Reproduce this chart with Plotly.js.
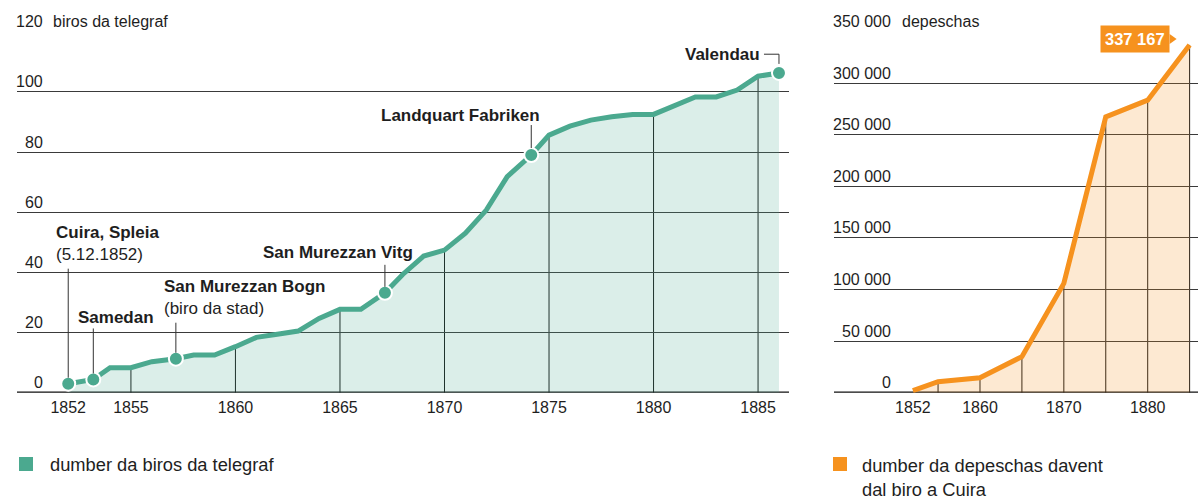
<!DOCTYPE html>
<html><head><meta charset="utf-8">
<script src="https://cdn.plot.ly/plotly-3.0.1.min.js"></script>
<style>html,body{margin:0;padding:0;background:#fff}#chart{width:1199px;height:499px}</style>
</head><body><div id="chart"></div>
<script>
// ---------- data ----------
const years = [1852, 1853.2, 1854, 1855, 1856, 1857.15, 1858, 1859, 1860, 1861, 1862, 1863, 1864, 1865, 1866, 1867.15, 1868, 1869, 1870, 1871, 1872, 1873, 1874.15, 1875, 1876, 1877, 1878, 1879, 1880, 1881, 1882, 1883, 1884, 1885, 1886];
const bureaus = [3, 4.4, 8.3, 8.3, 10.3, 11.3, 12.5, 12.5, 15.3, 18.4, 19.4, 20.5, 24.7, 27.7, 27.7, 33.2, 39.3, 45.4, 47.4, 53, 60.7, 71.8, 79, 85.6, 88.6, 90.6, 91.7, 92.5, 92.5, 95.2, 98.3, 98.3, 100.6, 105.2, 106.3];
const stationYears = [1852, 1853.2, 1857.15, 1867.15, 1874.15, 1886];
const stationNames = ['Cuira, Spleia', 'Samedan', 'San Murezzan Bogn', 'San Murezzan Vitg', 'Landquart Fabriken', 'Valendau'];
const stationNotes = ['(5.12.1852)', '', '(biro da stad)', '', '', ''];
const bureauXTicks = [1852, 1855, 1860, 1865, 1870, 1875, 1880, 1885];
const bureauGridYears = [1855, 1860, 1865, 1870, 1875, 1880, 1885];
const bureauYTicks = [0, 20, 40, 60, 80, 100, 120];
const bureauUnit = 'biros da telegraf';

const depYears = [1852, 1855, 1860, 1865, 1870, 1875, 1880, 1885];
const depValues = [2000, 10700, 14500, 34900, 106000, 267400, 283600, 337167];
const depXTicks = [1852, 1860, 1870, 1880];
const depGridYears = [1855, 1860, 1865, 1870, 1875, 1880, 1885];
const depYTicks = [0, 50000, 100000, 150000, 200000, 250000, 300000, 350000];
const depUnit = 'depeschas';

const legendBureaus = 'dumber da biros da telegraf';
const legendDepeschas = 'dumber da depeschas davent<br>dal biro a Cuira';

// ---------- style ----------
const W = 1199, H = 499;
const px = x => x / W;
const py = y => 1 - y / H;
const TEAL = '#4ba98f', TEAL_FILL = 'rgba(75,169,143,0.2)';
const ORANGE = '#f6921e', ORANGE_FILL = 'rgba(246,146,30,0.2)';
const TXT = '#1e1e1e';
const FONT = 'Liberation Sans, Arial, sans-serif';
const yDom = [py(392.7), py(31.7)];

// label placement (pixel offsets relative to marker)
const labelStyle = [
  {anchor: 'left', dx: -14, dy: 140, lead: [6, 115]},
  {anchor: 'left', dx: -17, dy: 62, lead: [6, 51]},
  {anchor: 'left', dx: -13.5, dy: 61, lead: [6, 36]},
  {anchor: 'right', dx: 30.5, dy: 40.7, lead: [6, 28]},
  {anchor: 'right', dx: 11, dy: 40, lead: [7, 30]},
  {anchor: 'right', dx: -17, dy: 18.7, lead: null}
];

function interp(xs, ys, x) {
  if (x <= xs[0]) return ys[0];
  for (let i = 1; i < xs.length; i++) {
    if (x <= xs[i]) {
      const t = (x - xs[i - 1]) / (xs[i] - xs[i - 1]);
      return ys[i - 1] + t * (ys[i] - ys[i - 1]);
    }
  }
  return ys[ys.length - 1];
}
const fmt = n => String(n).replace(/\B(?=(\d{3})+(?!\d))/g, ' ');

const stationValues = stationYears.map(y => interp(years, bureaus, y));

const traces = [
  {x: years, y: bureaus, xaxis: 'x', yaxis: 'y', mode: 'lines', fill: 'tozeroy', fillcolor: TEAL_FILL,
   line: {color: TEAL, width: 5}, hoverinfo: 'skip', showlegend: false},
  {x: stationYears, y: stationValues, xaxis: 'x', yaxis: 'y', mode: 'markers',
   marker: {size: 14, color: TEAL, line: {color: '#ffffff', width: 2}}, hoverinfo: 'skip', showlegend: false, cliponaxis: false},
  {x: depYears, y: depValues, xaxis: 'x2', yaxis: 'y2', mode: 'lines', fill: 'tozeroy', fillcolor: ORANGE_FILL,
   line: {color: ORANGE, width: 5}, hoverinfo: 'skip', showlegend: false}
];

const shapes = [];
bureauGridYears.forEach(yr => shapes.push({type: 'line', xref: 'x', yref: 'y', x0: yr, x1: yr, y0: 0,
  y1: interp(years, bureaus, yr), line: {color: '#151515', width: 1}, layer: 'below'}));
depGridYears.forEach(yr => shapes.push({type: 'line', xref: 'x2', yref: 'y2', x0: yr, x1: yr, y0: 0,
  y1: interp(depYears, depValues, yr), line: {color: '#151515', width: 1}, layer: 'below'}));
shapes.push({type: 'line', xref: 'x domain', yref: 'y', x0: 0, x1: 1, y0: 0, y1: 0, line: {color: '#111', width: 2.5}, layer: 'below'});
shapes.push({type: 'line', xref: 'x2 domain', yref: 'y2', x0: 0, x1: 1, y0: 0, y1: 0, line: {color: '#111', width: 2.5}, layer: 'below'});

const annotations = [];
// station labels + leaders
stationYears.forEach((yr, i) => {
  const s = labelStyle[i];
  const v = stationValues[i];
  const txt = '<b>' + stationNames[i] + '</b>' + (stationNotes[i] ? '<br>' + stationNotes[i] : '');
  annotations.push({xref: 'x', yref: 'y', x: yr, y: v, text: txt, showarrow: false, xanchor: s.anchor, yanchor: 'middle',
    align: 'left', xshift: s.dx, yshift: s.dy, font: {family: FONT, size: 17, color: TXT}});
  if (s.lead) {
    shapes.push({type: 'line', xref: 'x', yref: 'y', ysizemode: 'pixel', yanchor: v, x0: yr, x1: yr,
      y0: s.lead[0], y1: s.lead[1], line: {color: '#333', width: 1}});
  } else {
    shapes.push({type: 'path', xref: 'x', yref: 'y', xsizemode: 'pixel', ysizemode: 'pixel', xanchor: yr, yanchor: v,
      path: 'M-15,18.7 L0,18.7 L0,9', line: {color: '#333', width: 1}});
  }
});
// y tick labels
bureauYTicks.forEach(t => annotations.push({xref: 'paper', yref: 'y', x: px(45), y: t, text: String(t), showarrow: false,
  xanchor: 'right', yanchor: 'bottom', yshift: -0.5, font: {family: FONT, size: 16, color: TXT}}));
annotations.push({xref: 'paper', yref: 'y', x: px(51), y: bureauYTicks[bureauYTicks.length - 1], text: bureauUnit, showarrow: false,
  xanchor: 'left', yanchor: 'bottom', yshift: -0.5, font: {family: FONT, size: 16, color: TXT}});
depYTicks.forEach(t => annotations.push({xref: 'paper', yref: 'y2', x: px(893), y: t, text: fmt(t), showarrow: false,
  xanchor: 'right', yanchor: 'bottom', yshift: -0.5, font: {family: FONT, size: 16, color: TXT}}));
annotations.push({xref: 'paper', yref: 'y2', x: px(900), y: depYTicks[depYTicks.length - 1], text: depUnit, showarrow: false,
  xanchor: 'left', yanchor: 'bottom', yshift: -0.5, font: {family: FONT, size: 16, color: TXT}});
// last value label
const lastX = depYears[depYears.length - 1], lastV = depValues[depValues.length - 1];
annotations.push({xref: 'x2', yref: 'y2', x: lastX, y: lastV, text: '<b>' + fmt(lastV) + '</b>', showarrow: false,
  xanchor: 'right', yanchor: 'middle', xshift: -19.5, yshift: 6, bgcolor: ORANGE, borderpad: 4,
  font: {family: FONT, size: 16.5, color: '#ffffff'}});
shapes.push({type: 'path', xref: 'x2', yref: 'y2', xsizemode: 'pixel', ysizemode: 'pixel', xanchor: lastX, yanchor: lastV,
  path: 'M-20,11 L-13,6 L-20,1 Z', fillcolor: ORANGE, line: {width: 0}});
// legends
shapes.push({type: 'rect', xref: 'paper', yref: 'paper', x0: px(19), x1: px(33), y0: py(471), y1: py(457), fillcolor: TEAL, line: {width: 0}});
shapes.push({type: 'rect', xref: 'paper', yref: 'paper', x0: px(833), x1: px(847), y0: py(471), y1: py(457), fillcolor: ORANGE, line: {width: 0}});
annotations.push({xref: 'paper', yref: 'paper', x: px(48), y: py(464), text: legendBureaus, showarrow: false,
  xanchor: 'left', yanchor: 'middle', font: {family: FONT, size: 18.3, color: TXT}});
annotations.push({xref: 'paper', yref: 'paper', x: px(860), y: py(453), text: legendDepeschas, showarrow: false,
  xanchor: 'left', yanchor: 'top', align: 'left', font: {family: FONT, size: 18.3, color: TXT}});

const xBase = {showgrid: false, zeroline: false, showline: false, ticks: '', tickmode: 'array', ticklabelstandoff: 3,
  tickfont: {family: FONT, size: 16, color: TXT}, fixedrange: true};
const yBase = {showgrid: true, gridcolor: '#3a3a3a', gridwidth: 1, zeroline: false, showline: false, showticklabels: false,
  ticks: '', tickmode: 'array', domain: yDom, fixedrange: true};

const layout = {
  width: W, height: H, margin: {l: 0, r: 0, t: 0, b: 0}, paper_bgcolor: '#ffffff', plot_bgcolor: 'rgba(0,0,0,0)',
  showlegend: false, hovermode: false,
  xaxis: Object.assign({}, xBase, {domain: [px(17), px(789)], range: [1849.55, 1886.48], tickvals: bureauXTicks, anchor: 'y'}),
  yaxis: Object.assign({}, yBase, {range: [0, 120], tickvals: bureauYTicks, anchor: 'x'}),
  xaxis2: Object.assign({}, xBase, {domain: [px(834), px(1198)], range: [1842.59, 1886.0], tickvals: depXTicks, anchor: 'y2'}),
  yaxis2: Object.assign({}, yBase, {range: [0, 350000], tickvals: depYTicks, anchor: 'x2'}),
  shapes: shapes, annotations: annotations
};
Plotly.newPlot('chart', traces, layout, {displayModeBar: false, staticPlot: true});
</script></body></html>
